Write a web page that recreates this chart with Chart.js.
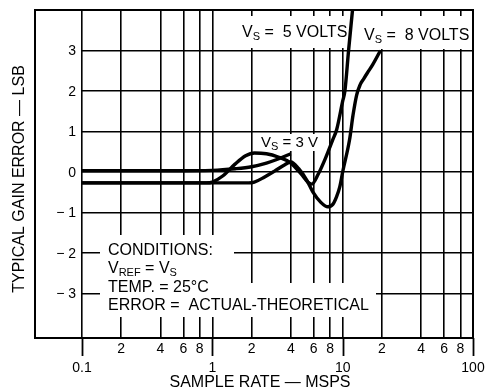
<!DOCTYPE html>
<html>
<head>
<meta charset="utf-8">
<script src="https://cdn.jsdelivr.net/npm/chart.js@4.4.1/dist/chart.umd.min.js"></script>
<style>
  html, body { margin: 0; padding: 0; background: #fff; }
  #wrap { width: 488px; height: 389px; }
</style>
</head>
<body>
<div id="wrap"><canvas id="gainChart" width="488" height="389"></canvas></div>
<script>
// tick values and labels
const xTicks = [0.1, 0.2, 0.4, 0.6, 0.8, 1, 2, 4, 6, 8, 10, 20, 40, 60, 80, 100];
const xTickLabels = ['0.1', '2', '4', '6', '8', '1', '2', '4', '6', '8', '10', '2', '4', '6', '8', '100'];
const xMajor = [0.1, 1, 10, 100];
const yTicks = [-3, -2, -1, 0, 1, 2, 3];
const yTickLabels = ['\u2212 3', '\u2212 2', '\u2212 1', '0', '1', '2', '3'];

// curves (sample rate in MSPS, gain error in LSB)
const rateVs3 = [0.1, 0.5, 1.0, 1.5, 2.0, 2.6, 3.2, 4.0];
const gainVs3 = [0.03, 0.03, 0.04, 0.08, 0.13, 0.22, 0.32, 0.45];

const rateVs5 = [0.1, 0.9, 1.0, 1.2, 1.5, 1.8, 2.1, 2.6, 3.2, 4.0, 4.8, 5.4, 5.8, 6.5, 7.4, 8.4, 9.0, 10.0, 10.4, 11.1, 11.9, 12.4];
const gainVs5 = [-0.27, -0.27, -0.25, -0.1, 0.2, 0.4, 0.47, 0.45, 0.37, 0.22, -0.05, -0.25, -0.3, -0.05, 0.35, 0.8, 1.05, 1.75, 2.0, 3.0, 4.0, 4.6];

const rateVs8 = [0.1, 1.9, 2.1, 2.5, 3.0, 3.6, 4.0, 4.6, 5.3, 5.9, 6.8, 7.7, 8.4, 9.0, 9.5, 10.0, 11.3, 12.0, 12.8, 13.6, 14.5, 15.5, 17.0, 19.5];
const gainVs8 = [-0.27, -0.27, -0.25, -0.13, 0.02, 0.18, 0.25, 0.08, -0.2, -0.49, -0.75, -0.86, -0.8, -0.6, -0.37, 0.0, 0.8, 1.4, 1.9, 2.15, 2.3, 2.45, 2.65, 3.0];

const toPoints = (xs, ys) => xs.map((x, i) => ({ x: x, y: ys[i] }));

const FONT = '"Liberation Sans", Arial, Helvetica, sans-serif';

// draw text with subscript runs: [text, isSub]
function drawRuns(ctx, x, y, runs, size) {
    let cx = x;
    runs.forEach(([txt, sub]) => {
        ctx.font = (sub ? Math.round(size * 0.7) : size) + 'px ' + FONT;
        ctx.fillText(txt, cx, sub ? y + 3 : y);
        cx += ctx.measureText(txt).width;
    });
}

const sheetPlugin = {
    id: 'sheet',
    beforeDatasetsDraw(chart) {
        const { ctx, chartArea: a, scales } = chart;
        const x01 = scales.x.getPixelForValue(0.1);
        ctx.save();
        ctx.fillStyle = '#fff';
        // area left of the 0.1 line holds the y labels
        ctx.fillRect(a.left + 1, a.top + 1, x01 - a.left - 2, a.bottom - a.top - 2);
        // white boxes behind the notes
        ctx.fillRect(238, 16, 109, 32);
        ctx.fillRect(355, 16, 116, 33);
        ctx.fillRect(258, 134, 66, 17);
        ctx.fillRect(100, 235, 134, 48);
        ctx.fillRect(100, 283, 276, 34);
        ctx.restore();
    },
    afterDraw(chart) {
        const { ctx, chartArea: a, scales } = chart;
        ctx.save();
        ctx.strokeStyle = '#000';
        ctx.fillStyle = '#000';

        // frame
        ctx.lineWidth = 2;
        ctx.strokeRect(a.left, a.top, a.right - a.left, a.bottom - a.top);

        // longer ticks at each decade
        ctx.lineWidth = 1.8;
        xMajor.forEach(v => {
            const px = Math.round(scales.x.getPixelForValue(v)) + 0.5;
            ctx.beginPath();
            ctx.moveTo(px, a.bottom);
            ctx.lineTo(px, a.bottom + 18);
            ctx.stroke();
        });

        // x tick labels
        ctx.font = '14px ' + FONT;
        ctx.textAlign = 'center';
        ctx.textBaseline = 'alphabetic';
        xTicks.forEach((v, i) => {
            const px = scales.x.getPixelForValue(v);
            const major = xMajor.includes(v);
            ctx.fillText(xTickLabels[i], px, major ? a.bottom + 34 : a.bottom + 15);
        });

        // y tick labels (inside the frame)
        ctx.textAlign = 'right';
        yTicks.forEach((v, i) => {
            const py = scales.y.getPixelForValue(v);
            ctx.fillText(yTickLabels[i], 76, py + 5);
        });

        // axis titles
        ctx.font = '16px ' + FONT;
        ctx.textAlign = 'center';
        ctx.fillText('SAMPLE RATE \u2014 MSPS', 260, 387);
        ctx.save();
        ctx.translate(23.5, 179);
        ctx.rotate(-Math.PI / 2);
        ctx.fillText('TYPICAL GAIN ERROR \u2014 LSB', 0, 0);
        ctx.restore();

        // curve notes
        ctx.textAlign = 'left';
        drawRuns(ctx, 242, 37, [['V'], ['S', true], [' =  5 VOLTS']], 16);
        drawRuns(ctx, 364, 40, [['V'], ['S', true], [' =  8 VOLTS']], 16);
        drawRuns(ctx, 261, 147, [['V'], ['S', true], [' = 3 V']], 15);

        // conditions
        drawRuns(ctx, 108, 255, [['CONDITIONS:']], 16);
        drawRuns(ctx, 108, 273, [['V'], ['REF', true], [' = V'], ['S', true]], 16);
        drawRuns(ctx, 108, 292, [['TEMP. = 25\u00b0C']], 16);
        drawRuns(ctx, 108, 310, [['ERROR =  ACTUAL-THEORETICAL']], 16);

        ctx.restore();
    }
};

const lineStyle = {
    borderColor: '#000',
    borderWidth: 3.4,
    pointRadius: 0,
    fill: false,
    cubicInterpolationMode: 'monotone'
};

new Chart(document.getElementById('gainChart'), {
    type: 'line',
    data: {
        datasets: [
            Object.assign({ label: 'VS = 3 V', data: toPoints(rateVs3, gainVs3) }, lineStyle),
            Object.assign({ label: 'VS = 5 VOLTS', data: toPoints(rateVs5, gainVs5) }, lineStyle),
            Object.assign({ label: 'VS = 8 VOLTS', data: toPoints(rateVs8, gainVs8) }, lineStyle)
        ]
    },
    options: {
        responsive: false,
        animation: false,
        devicePixelRatio: 1,
        events: [],
        layout: {
            padding: { left: 35, top: 10, right: 15, bottom: 51 }
        },
        plugins: {
            legend: { display: false },
            tooltip: { enabled: false },
            title: { display: false }
        },
        scales: {
            x: {
                type: 'logarithmic',
                min: 0.04358,
                max: 100,
                afterBuildTicks: s => { s.ticks = xTicks.map(v => ({ value: v })); },
                ticks: { display: false },
                grid: { color: '#000', lineWidth: 1.6, drawTicks: false, tickLength: 0 },
                border: { display: false }
            },
            y: {
                type: 'linear',
                min: -4.1,
                max: 4.0,
                afterBuildTicks: s => { s.ticks = yTicks.map(v => ({ value: v })); },
                ticks: { display: false },
                grid: { color: '#000', lineWidth: 1.6, drawTicks: false, tickLength: 0 },
                border: { display: false }
            }
        }
    },
    plugins: [sheetPlugin]
});
</script>
</body>
</html>
